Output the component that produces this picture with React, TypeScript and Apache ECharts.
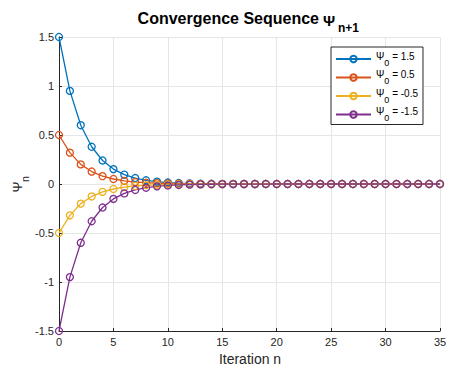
import React, { useEffect, useRef } from "react";
import * as echarts from "echarts";

const iterations = Array.from({ length: 36 }, (_, i) => i);
const psiPos15 = [1.5, 0.95, 0.6, 0.38, 0.24, 0.152, 0.096, 0.061, 0.038, 0.024, 0.015, 0.0097, 0.0061, 0.0039, 0.0025, 0.0016, 0.001, 0.0006, 0.0004, 0.0003, 0.0002, 0.0001, 0.0001, 0, 0, 0, 0, 0, 0, 0, 0, 0, 0, 0, 0, 0];
const psiPos05 = [0.5, 0.32, 0.2, 0.127, 0.08, 0.051, 0.032, 0.02, 0.013, 0.008, 0.005, 0.003, 0.002, 0.0013, 0.0008, 0.0005, 0.0003, 0.0002, 0.0001, 0.0001, 0, 0, 0, 0, 0, 0, 0, 0, 0, 0, 0, 0, 0, 0, 0, 0];
const psiNeg05 = [-0.5, -0.32, -0.2, -0.127, -0.08, -0.051, -0.032, -0.02, -0.013, -0.008, -0.005, -0.003, -0.002, -0.0013, -0.0008, -0.0005, -0.0003, -0.0002, -0.0001, -0.0001, 0, 0, 0, 0, 0, 0, 0, 0, 0, 0, 0, 0, 0, 0, 0, 0];
const psiNeg15 = [-1.5, -0.95, -0.6, -0.38, -0.24, -0.152, -0.096, -0.061, -0.038, -0.024, -0.015, -0.0097, -0.0061, -0.0039, -0.0025, -0.0016, -0.001, -0.0006, -0.0004, -0.0003, -0.0002, -0.0001, -0.0001, 0, 0, 0, 0, 0, 0, 0, 0, 0, 0, 0, 0, 0];
const seriesNames = ["1.5", "0.5", "-0.5", "-1.5"];
const seriesData = [psiPos15, psiPos05, psiNeg05, psiNeg15];
const colors = ["#0072BD", "#D95319", "#EDB120", "#7E2F8E"];

const FONT = "Liberation Sans, Arial, sans-serif";

export default function App() {
  const ref = useRef<HTMLDivElement>(null);
  useEffect(() => {
    const chart = echarts.init(ref.current!, null, { renderer: "svg" });
    chart.setOption({
      animation: false,
      backgroundColor: "#ffffff",
      textStyle: { fontFamily: FONT },
      graphic: [
        {
          type: "text",
          x: 319,
          y: 18.5,
          style: {
            text: "Convergence Sequence",
            align: "right",
            verticalAlign: "middle",
            fontSize: 16,
            fontWeight: "bold",
            fill: "#000",
            fontFamily: FONT,
          },
        },
        {
          type: "text",
          x: 323,
          y: 20,
          style: {
            text: "Ψ",
            align: "left",
            verticalAlign: "middle",
            fontSize: 15,
            fontWeight: "bold",
            fill: "#000",
            fontFamily: FONT,
          },
        },
        {
          type: "text",
          x: 338,
          y: 27.5,
          style: {
            text: "n+1",
            align: "left",
            verticalAlign: "middle",
            fontSize: 12,
            fontWeight: "bold",
            fill: "#000",
            fontFamily: FONT,
          },
        },
        {
          type: "text",
          x: 250,
          y: 359,
          style: {
            text: "Iteration n",
            align: "center",
            verticalAlign: "middle",
            fontSize: 14,
            fill: "#262626",
            fontFamily: FONT,
          },
        },
        {
          type: "text",
          x: 17,
          y: 187,
          rotation: Math.PI / 2,
          style: {
            text: "Ψ",
            align: "center",
            verticalAlign: "middle",
            fontSize: 13,
            fill: "#262626",
            fontFamily: FONT,
          },
        },
        {
          type: "text",
          x: 24.5,
          y: 179,
          rotation: Math.PI / 2,
          style: {
            text: "n",
            align: "center",
            verticalAlign: "middle",
            fontSize: 10.5,
            fill: "#262626",
            fontFamily: FONT,
          },
        },
      ],
      legend: {
        left: 331,
        top: 47,
        orient: "vertical",
        backgroundColor: "#fff",
        borderColor: "#262626",
        borderWidth: 1,
        padding: [4, 5, 2, 4],
        itemGap: 2.5,
        itemWidth: 35,
        itemHeight: 8,
        data: seriesNames.map((n) => "Ψ0 = " + n),
        formatter: (name: string) => "{a|Ψ}{b|0}{c|" + name.slice(2) + "}",
        textStyle: {
          rich: {
            a: { fontSize: 10, color: "#000", fontFamily: FONT, lineHeight: 10, verticalAlign: "top" },
            b: { fontSize: 9, color: "#000", fontFamily: FONT, lineHeight: 16, verticalAlign: "bottom" },
            c: { fontSize: 10, color: "#000", fontFamily: FONT, lineHeight: 10, verticalAlign: "top" },
          },
        },
      },
      grid: { left: 59, right: 20, top: 37, bottom: 43, containLabel: false, outerBoundsMode: "none" },
      xAxis: {
        type: "value",
        min: 0,
        max: 35,
        interval: 5,
        axisLine: { onZero: false, lineStyle: { color: "#262626", width: 1 } },
        axisTick: { inside: true, length: 3, lineStyle: { color: "#262626" } },
        axisLabel: { fontSize: 11, color: "#262626", margin: 5, fontFamily: FONT },
        splitLine: { show: true, lineStyle: { color: "#e6e6e6", width: 1 } },
      },
      yAxis: {
        type: "value",
        min: -1.5,
        max: 1.5,
        interval: 0.5,
        axisLine: { show: true, lineStyle: { color: "#262626", width: 1 } },
        axisTick: { show: true, inside: true, length: 3, lineStyle: { color: "#262626" } },
        axisLabel: { fontSize: 11, color: "#262626", margin: 5, fontFamily: FONT },
        splitLine: { show: true, lineStyle: { color: "#e6e6e6", width: 1 } },
      },
      series: seriesData.map((d, i) => ({
        name: "Ψ0 = " + seriesNames[i],
        type: "line",
        data: d.map((v, j) => [iterations[j], v]),
        symbol: "circle",
        symbolSize: 7,
        showSymbol: true,
        itemStyle: { color: "transparent", borderColor: colors[i], borderWidth: 1.3 },
        lineStyle: { color: colors[i], width: 1.3 },
        color: colors[i],
      })),
    });
    return () => chart.dispose();
  }, []);
  return <div ref={ref} style={{ width: 460, height: 374, position: "absolute", left: 0, top: 0 }} />;
}
